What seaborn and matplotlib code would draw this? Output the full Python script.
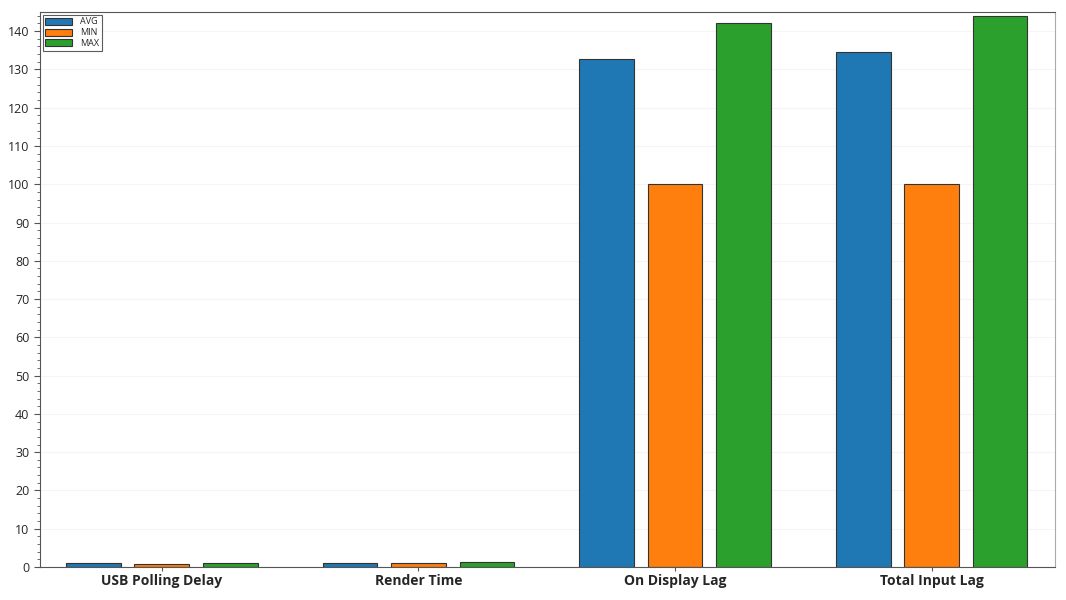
import matplotlib
matplotlib.use('Agg')
import matplotlib.pyplot as plt
import pandas as pd
import numpy as np
import seaborn as sns
from matplotlib.ticker import MultipleLocator

# values
categories = ['USB Polling Delay', 'Render Time', 'On Display Lag', 'Total Input Lag']
avg_vals = [1.0, 1.1, 132.8, 134.6]
min_vals = [0.8, 1.1, 100.0, 100.0]
max_vals = [1.0, 1.2, 142.0, 143.9]
series = ['AVG', 'MIN', 'MAX']

df = pd.DataFrame({
    'category': categories * 3,
    'stat': ['AVG'] * 4 + ['MIN'] * 4 + ['MAX'] * 4,
    'value': avg_vals + min_vals + max_vals,
})

sns.set_style('white')
plt.rcParams['font.family'] = ['Open Sans', 'DejaVu Sans']

fig = plt.figure(figsize=(10.66, 6), dpi=100)
ax = fig.add_axes([0.0375, 0.055, 0.952, 0.925])

palette = ['#1f77b4', '#ff7f0e', '#2ca02c']
sns.barplot(data=df, x='category', y='value', hue='stat', hue_order=series,
            order=categories, palette=palette, width=0.8, gap=0.2,
            edgecolor='#333333', linewidth=0.8, saturation=1, ax=ax)

ax.set_ylim(0, 145)
ax.set_xlim(-0.475, 3.48)
ax.yaxis.set_major_locator(MultipleLocator(10))
ax.yaxis.set_minor_locator(MultipleLocator(2))
ax.grid(axis='y', which='major', color='#f5f5f5', linewidth=0.8)
ax.set_axisbelow(True)
ax.tick_params(axis='y', which='major', left=True, length=4, labelsize=9, color='#555555')
ax.tick_params(axis='y', which='minor', left=True, length=2, color='#555555')
ax.tick_params(axis='x', bottom=True, length=3, pad=2, color='#555555')
for lab in ax.get_xticklabels():
    lab.set_fontweight('bold')
    lab.set_fontsize(10)
ax.set_xlabel('')
ax.set_ylabel('')
for s in ax.spines.values():
    s.set_color('#555555')
    s.set_linewidth(0.8)
ax.spines['right'].set_color('#aaaaaa')

leg = ax.legend(loc='upper left', fontsize=6.5, frameon=True, fancybox=False,
                edgecolor='#333333', handlelength=3, handleheight=0.8,
                borderpad=0.3, labelspacing=0.2, borderaxespad=0.3)
leg.get_frame().set_linewidth(0.8)

fig.savefig('out.png', dpi=100)
